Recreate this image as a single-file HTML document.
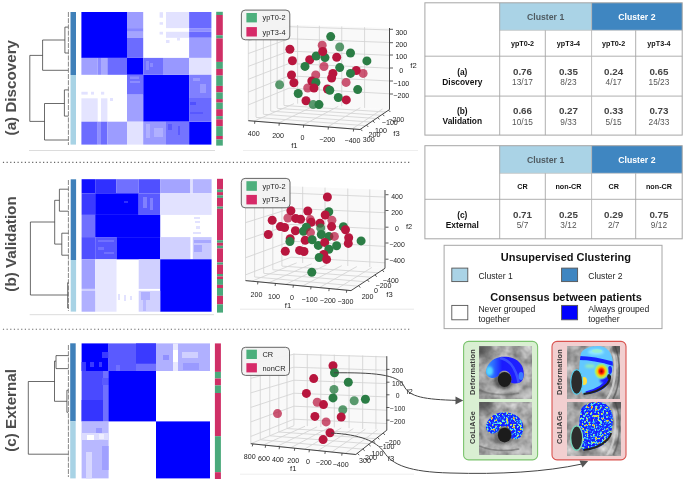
<!DOCTYPE html>
<html><head><meta charset="utf-8">
<style>
html,body{margin:0;padding:0;background:#fff;}
body{width:685px;height:483px;overflow:hidden;position:relative;font-family:"Liberation Sans", sans-serif;}
svg{position:absolute;left:0;top:0;will-change:transform;}
svg text{font-family:"Liberation Sans", sans-serif;}
</style></head><body>
<svg width="685" height="483" viewBox="0 0 685 483">
<text transform="translate(16.0,87.7) rotate(-90)" font-size="15.2" font-weight="bold" fill="#4d4d4d" text-anchor="middle">(a) Discovery</text>
<text transform="translate(16.0,244.0) rotate(-90)" font-size="15.2" font-weight="bold" fill="#4d4d4d" text-anchor="middle">(b) Validation</text>
<text transform="translate(16.0,410.4) rotate(-90)" font-size="15.2" font-weight="bold" fill="#4d4d4d" text-anchor="middle">(c) External</text>
<path d="M42.6 55.4 L29.8 55.4 L29.8 121.4 L44.5 121.4" fill="none" stroke="#3a3a3a" stroke-width="0.75"/>
<path d="M64.9 40.0 L42.6 40.0 L42.6 70.3 L68.2 70.3" fill="none" stroke="#3a3a3a" stroke-width="0.75"/>
<path d="M68.2 27.1 L64.9 27.1 L64.9 53.0 L68.2 53.0" fill="none" stroke="#3a3a3a" stroke-width="0.75"/>
<path d="M64.4 103.5 L44.5 103.5 L44.5 140.0 L68.2 140.0" fill="none" stroke="#3a3a3a" stroke-width="0.75"/>
<path d="M68.2 89.9 L64.4 89.9 L64.4 116.1 L68.2 116.1" fill="none" stroke="#3a3a3a" stroke-width="0.75"/>
<line x1="68.4" y1="12" x2="68.4" y2="145" stroke="#555" stroke-width="0.7" stroke-dasharray="5 1.2"/>
<path d="M54.7 222.0 L30.4 222.0 L30.4 295.0 L67.7 295.0" fill="none" stroke="#3a3a3a" stroke-width="0.75"/>
<path d="M59.4 200.3 L54.7 200.3 L54.7 244.1 L61.8 244.1" fill="none" stroke="#3a3a3a" stroke-width="0.75"/>
<path d="M68.4 189.2 L59.4 189.2 L59.4 211.2 L68.4 211.2" fill="none" stroke="#3a3a3a" stroke-width="0.75"/>
<path d="M68.4 233.2 L61.8 233.2 L61.8 255.2 L68.4 255.2" fill="none" stroke="#3a3a3a" stroke-width="0.75"/>
<path d="M68.4 282.7 L67.7 282.7 L67.7 308.0 L68.4 308.0" fill="none" stroke="#3a3a3a" stroke-width="0.75"/>
<line x1="68.4" y1="180" x2="68.4" y2="311" stroke="#555" stroke-width="0.7" stroke-dasharray="5 1.2"/>
<path d="M54.5 381.5 L28.3 381.5 L28.3 454.2 L68.2 454.2" fill="none" stroke="#3a3a3a" stroke-width="0.75"/>
<path d="M56.0 361.1 L54.5 361.1 L54.5 401.3 L66.9 401.3" fill="none" stroke="#3a3a3a" stroke-width="0.75"/>
<path d="M68.2 355.6 L56.0 355.6 L56.0 368.6 L68.2 368.6" fill="none" stroke="#3a3a3a" stroke-width="0.75"/>
<path d="M68.2 390.2 L66.9 390.2 L66.9 412.3 L68.2 412.3" fill="none" stroke="#3a3a3a" stroke-width="0.75"/>
<line x1="68.4" y1="345" x2="68.4" y2="477" stroke="#555" stroke-width="0.7" stroke-dasharray="5 1.2"/>
<rect x="70.50" y="12.00" width="5.50" height="63.00" fill="#3f80b9" />
<rect x="70.50" y="75.00" width="5.50" height="69.60" fill="#a8d3e5" />
<rect x="70.70" y="179.30" width="5.40" height="80.70" fill="#3f80b9" />
<rect x="70.70" y="260.00" width="5.40" height="51.60" fill="#a8d3e5" />
<rect x="70.20" y="343.30" width="5.50" height="78.00" fill="#3f80b9" />
<rect x="70.20" y="421.30" width="5.50" height="57.10" fill="#a8d3e5" />
<rect x="216.20" y="11.80" width="6.60" height="3.20" fill="#4aa97b" />
<rect x="216.20" y="15.00" width="6.60" height="20.30" fill="#cf2f66" />
<rect x="216.20" y="35.30" width="6.60" height="3.10" fill="#4aa97b" />
<rect x="216.20" y="38.40" width="6.60" height="23.50" fill="#cf2f66" />
<rect x="216.20" y="61.90" width="6.60" height="7.00" fill="#4aa97b" />
<rect x="216.20" y="68.90" width="6.60" height="6.70" fill="#cf2f66" />
<rect x="216.20" y="75.60" width="6.60" height="10.30" fill="#4aa97b" />
<rect x="216.20" y="85.90" width="6.60" height="6.50" fill="#cf2f66" />
<rect x="216.20" y="92.40" width="6.60" height="6.70" fill="#4aa97b" />
<rect x="216.20" y="99.10" width="6.60" height="3.50" fill="#cf2f66" />
<rect x="216.20" y="102.60" width="6.60" height="6.60" fill="#4aa97b" />
<rect x="216.20" y="109.20" width="6.60" height="6.90" fill="#cf2f66" />
<rect x="216.20" y="116.10" width="6.60" height="3.20" fill="#4aa97b" />
<rect x="216.20" y="119.30" width="6.60" height="6.90" fill="#cf2f66" />
<rect x="216.20" y="126.20" width="6.60" height="9.80" fill="#4aa97b" />
<rect x="216.20" y="136.00" width="6.60" height="3.40" fill="#cf2f66" />
<rect x="216.20" y="139.40" width="6.60" height="6.20" fill="#4aa97b" />
<rect x="217.00" y="178.80" width="6.00" height="10.70" fill="#cf2f66" />
<rect x="217.00" y="189.50" width="6.00" height="2.60" fill="#4aa97b" />
<rect x="217.00" y="192.10" width="6.00" height="3.20" fill="#cf2f66" />
<rect x="217.00" y="195.30" width="6.00" height="2.60" fill="#4aa97b" />
<rect x="217.00" y="197.90" width="6.00" height="8.70" fill="#cf2f66" />
<rect x="217.00" y="206.60" width="6.00" height="2.20" fill="#4aa97b" />
<rect x="217.00" y="208.80" width="6.00" height="31.40" fill="#cf2f66" />
<rect x="217.00" y="240.20" width="6.00" height="2.60" fill="#4aa97b" />
<rect x="217.00" y="242.80" width="6.00" height="3.00" fill="#cf2f66" />
<rect x="217.00" y="245.80" width="6.00" height="2.60" fill="#4aa97b" />
<rect x="217.00" y="248.40" width="6.00" height="14.00" fill="#cf2f66" />
<rect x="217.00" y="262.40" width="6.00" height="2.30" fill="#4aa97b" />
<rect x="217.00" y="264.70" width="6.00" height="9.30" fill="#cf2f66" />
<rect x="217.00" y="274.00" width="6.00" height="2.40" fill="#4aa97b" />
<rect x="217.00" y="276.40" width="6.00" height="2.60" fill="#cf2f66" />
<rect x="217.00" y="279.00" width="6.00" height="5.90" fill="#4aa97b" />
<rect x="217.00" y="284.90" width="6.00" height="3.10" fill="#cf2f66" />
<rect x="217.00" y="288.00" width="6.00" height="7.80" fill="#4aa97b" />
<rect x="217.00" y="295.80" width="6.00" height="8.50" fill="#cf2f66" />
<rect x="217.00" y="304.30" width="6.00" height="8.30" fill="#4aa97b" />
<rect x="214.90" y="343.40" width="6.00" height="28.50" fill="#cf2f66" />
<rect x="214.90" y="371.90" width="6.00" height="6.60" fill="#4aa97b" />
<rect x="214.90" y="378.50" width="6.00" height="6.90" fill="#cf2f66" />
<rect x="214.90" y="385.40" width="6.00" height="7.60" fill="#4aa97b" />
<rect x="214.90" y="393.00" width="6.00" height="43.20" fill="#cf2f66" />
<rect x="214.90" y="436.20" width="6.00" height="36.00" fill="#4aa97b" />
<rect x="214.90" y="472.20" width="6.00" height="6.80" fill="#cf2f66" />
<rect x="81.40" y="12.00" width="130.00" height="132.60" fill="#ffffff" />
<rect x="81.40" y="12.00" width="45.60" height="45.90" fill="#0000ff" />
<rect x="127.00" y="57.90" width="16.20" height="16.90" fill="#0000ff" />
<rect x="143.20" y="74.80" width="45.90" height="46.90" fill="#0000ff" />
<rect x="189.10" y="121.70" width="22.30" height="22.90" fill="#0000ff" />
<rect x="127.00" y="12.00" width="16.20" height="16.10" fill="#9c9cff" />
<rect x="127.00" y="28.10" width="16.20" height="3.70" fill="#8888ff" />
<rect x="127.00" y="31.80" width="16.20" height="6.00" fill="#a4a4ff" />
<rect x="127.00" y="37.80" width="16.20" height="20.10" fill="#6c6cff" />
<rect x="166.00" y="12.00" width="23.10" height="16.10" fill="#e2e2ff" />
<rect x="166.00" y="31.80" width="23.10" height="6.00" fill="#e2e2ff" />
<rect x="159.60" y="12.20" width="3.40" height="5.50" fill="#e2e2ff" />
<rect x="159.60" y="22.20" width="3.40" height="2.50" fill="#e2e2ff" />
<rect x="159.60" y="31.80" width="3.40" height="2.70" fill="#e2e2ff" />
<rect x="177.00" y="37.80" width="3.00" height="2.70" fill="#e2e2ff" />
<rect x="166.00" y="40.00" width="3.50" height="3.00" fill="#e2e2ff" />
<rect x="189.10" y="12.00" width="22.30" height="16.10" fill="#6a6aff" />
<rect x="189.10" y="28.10" width="22.30" height="3.70" fill="#9090ff" />
<rect x="189.10" y="31.80" width="22.30" height="6.00" fill="#6a6aff" />
<rect x="189.10" y="37.80" width="22.30" height="20.10" fill="#9c9cff" />
<rect x="81.40" y="57.90" width="16.30" height="16.90" fill="#a0a0ff" />
<rect x="97.70" y="57.90" width="3.30" height="16.90" fill="#8a8aff" />
<rect x="101.00" y="57.90" width="6.40" height="16.90" fill="#a8a8ff" />
<rect x="107.40" y="57.90" width="19.60" height="16.90" fill="#6c6cff" />
<rect x="143.20" y="57.90" width="19.80" height="16.90" fill="#7070ff" />
<rect x="163.00" y="57.90" width="26.10" height="16.90" fill="#9898ff" />
<rect x="189.10" y="57.90" width="22.30" height="16.90" fill="#e2e2ff" />
<rect x="146.00" y="61.00" width="3.00" height="9.00" fill="#8a8aff" />
<rect x="150.00" y="63.00" width="3.00" height="4.00" fill="#8a8aff" />
<rect x="81.40" y="91.80" width="6.30" height="2.80" fill="#e2e2ff" />
<rect x="91.00" y="91.80" width="3.00" height="2.80" fill="#e2e2ff" />
<rect x="101.00" y="91.80" width="3.20" height="2.80" fill="#e2e2ff" />
<rect x="81.40" y="98.30" width="16.30" height="23.40" fill="#e4e4ff" />
<rect x="101.00" y="98.30" width="6.40" height="23.40" fill="#e4e4ff" />
<rect x="110.00" y="98.00" width="3.00" height="3.00" fill="#e2e2ff" />
<rect x="127.00" y="74.80" width="16.20" height="19.90" fill="#7070ff" />
<rect x="127.00" y="94.70" width="16.20" height="27.00" fill="#a0a0ff" />
<rect x="130.00" y="76.50" width="9.00" height="2.50" fill="#8c8cff" />
<rect x="130.00" y="81.00" width="10.00" height="2.00" fill="#8c8cff" />
<rect x="189.10" y="74.80" width="22.30" height="23.20" fill="#8080ff" />
<rect x="189.10" y="98.00" width="22.30" height="23.70" fill="#6a6aff" />
<rect x="193.00" y="78.00" width="7.00" height="3.00" fill="#9a9aff" />
<rect x="200.00" y="84.00" width="6.00" height="9.00" fill="#9a9aff" />
<rect x="190.00" y="102.00" width="6.00" height="3.00" fill="#5050ff" />
<rect x="190.00" y="112.00" width="13.00" height="2.00" fill="#5858ff" />
<rect x="81.40" y="121.70" width="16.30" height="22.90" fill="#6c6cff" />
<rect x="97.70" y="121.70" width="3.30" height="22.90" fill="#9090ff" />
<rect x="101.00" y="121.70" width="6.40" height="22.90" fill="#6c6cff" />
<rect x="107.40" y="121.70" width="19.60" height="22.90" fill="#9c9cff" />
<rect x="127.00" y="121.70" width="16.20" height="22.90" fill="#e2e2ff" />
<rect x="143.20" y="121.70" width="22.80" height="22.90" fill="#9a9aff" />
<rect x="166.00" y="121.70" width="23.10" height="22.90" fill="#7474ff" />
<rect x="146.00" y="124.00" width="4.00" height="14.00" fill="#b0b0ff" />
<rect x="154.00" y="128.00" width="9.00" height="9.00" fill="#b0b0ff" />
<rect x="168.00" y="124.00" width="4.00" height="6.00" fill="#5a5aff" />
<rect x="178.00" y="126.00" width="2.00" height="9.00" fill="#5a5aff" />
<rect x="81.60" y="179.20" width="130.00" height="132.50" fill="#ffffff" />
<rect x="81.60" y="179.20" width="13.60" height="14.10" fill="#1010ff" />
<rect x="95.20" y="179.20" width="21.30" height="14.10" fill="#3030ff" />
<rect x="116.50" y="179.20" width="22.20" height="14.10" fill="#7070ff" />
<rect x="138.70" y="179.20" width="21.50" height="14.10" fill="#5050ff" />
<rect x="160.20" y="179.20" width="30.20" height="14.10" fill="#a4a4ff" />
<rect x="190.40" y="179.20" width="2.40" height="14.10" fill="#e0e0ff" />
<rect x="192.80" y="179.20" width="18.80" height="14.10" fill="#b4b4ff" />
<rect x="81.60" y="193.30" width="13.60" height="21.60" fill="#3a3aff" />
<rect x="95.20" y="193.30" width="43.50" height="21.60" fill="#0000ff" />
<rect x="138.70" y="193.30" width="21.50" height="21.60" fill="#5a5aff" />
<rect x="160.20" y="193.30" width="51.40" height="21.60" fill="#e2e2ff" />
<rect x="143.00" y="197.00" width="4.00" height="11.00" fill="#8080ff" />
<rect x="150.00" y="198.00" width="3.00" height="12.00" fill="#8080ff" />
<rect x="124.00" y="201.00" width="4.00" height="2.00" fill="#3030ff" />
<rect x="81.60" y="214.90" width="13.60" height="22.20" fill="#7070ff" />
<rect x="95.20" y="214.90" width="65.00" height="22.20" fill="#0000ff" />
<rect x="194.00" y="217.00" width="6.00" height="2.00" fill="#e2e2ff" />
<rect x="195.00" y="221.00" width="5.00" height="2.00" fill="#e2e2ff" />
<rect x="196.00" y="226.00" width="4.00" height="3.00" fill="#e2e2ff" />
<rect x="193.00" y="232.00" width="8.00" height="2.00" fill="#e2e2ff" />
<rect x="81.60" y="237.10" width="13.60" height="22.20" fill="#5050ff" />
<rect x="95.20" y="237.10" width="21.30" height="22.20" fill="#5656ff" />
<rect x="116.50" y="237.10" width="43.70" height="22.20" fill="#0000ff" />
<rect x="160.20" y="237.10" width="30.20" height="22.20" fill="#d0d0ff" />
<rect x="192.80" y="237.10" width="18.80" height="22.20" fill="#c8c8ff" />
<rect x="98.00" y="240.00" width="16.00" height="2.00" fill="#7070ff" />
<rect x="98.00" y="247.00" width="6.00" height="3.00" fill="#7070ff" />
<rect x="104.00" y="252.00" width="10.00" height="2.00" fill="#7070ff" />
<rect x="194.00" y="240.00" width="17.00" height="3.00" fill="#a8a8ff" />
<rect x="194.00" y="245.00" width="8.00" height="7.00" fill="#a8a8ff" />
<rect x="81.60" y="259.30" width="13.60" height="29.60" fill="#a0a0ff" />
<rect x="95.20" y="259.30" width="21.30" height="52.40" fill="#e6e6ff" />
<rect x="138.70" y="259.30" width="21.50" height="29.60" fill="#d0d0ff" />
<rect x="160.20" y="259.30" width="51.40" height="52.40" fill="#0000ff" />
<rect x="81.60" y="288.90" width="13.60" height="2.00" fill="#d0d0ff" />
<rect x="81.60" y="290.90" width="13.60" height="20.80" fill="#b0b0ff" />
<rect x="138.70" y="290.80" width="21.50" height="20.90" fill="#d0d0ff" />
<rect x="141.00" y="292.00" width="9.00" height="8.00" fill="#b0b0ff" />
<rect x="143.00" y="300.00" width="3.00" height="11.00" fill="#b8b8ff" />
<rect x="118.00" y="294.00" width="2.00" height="6.00" fill="#e2e2ff" />
<rect x="124.00" y="295.00" width="2.00" height="6.00" fill="#e2e2ff" />
<rect x="130.00" y="296.00" width="2.00" height="4.00" fill="#e2e2ff" />
<rect x="81.60" y="343.40" width="128.40" height="135.00" fill="#ffffff" />
<rect x="81.60" y="343.40" width="27.00" height="27.60" fill="#0000ff" />
<rect x="81.60" y="362.00" width="4.40" height="9.00" fill="#3a3aff" />
<rect x="90.00" y="362.00" width="4.00" height="5.00" fill="#3a3aff" />
<rect x="99.00" y="362.00" width="3.00" height="5.00" fill="#3a3aff" />
<rect x="102.00" y="352.00" width="6.60" height="6.00" fill="#3a3aff" />
<rect x="108.60" y="343.40" width="47.40" height="27.60" fill="#5a5aff" />
<rect x="136.00" y="343.40" width="20.00" height="20.60" fill="#3a3aff" />
<rect x="108.60" y="363.50" width="47.40" height="7.50" fill="#5a5aff" />
<rect x="116.00" y="365.00" width="4.00" height="6.00" fill="#7070ff" />
<rect x="136.00" y="364.00" width="20.00" height="7.00" fill="#7070ff" />
<rect x="156.00" y="343.40" width="54.00" height="27.60" fill="#b0b0ff" />
<rect x="173.00" y="343.40" width="5.00" height="27.60" fill="#e8e8ff" />
<rect x="173.00" y="350.00" width="5.00" height="12.00" fill="#ffffff" />
<rect x="182.00" y="352.00" width="16.00" height="6.00" fill="#d0d0ff" />
<rect x="183.00" y="363.00" width="16.00" height="7.00" fill="#9a9aff" />
<rect x="163.00" y="355.00" width="6.00" height="5.00" fill="#9090ff" />
<rect x="81.60" y="371.00" width="27.00" height="50.40" fill="#4a4aff" />
<rect x="81.60" y="400.00" width="21.40" height="21.40" fill="#3535ff" />
<rect x="103.00" y="371.00" width="5.60" height="50.40" fill="#7070ff" />
<rect x="102.00" y="378.00" width="6.60" height="7.00" fill="#5a5aff" />
<rect x="108.60" y="371.00" width="47.40" height="50.40" fill="#0000ff" />
<rect x="156.00" y="421.40" width="54.00" height="57.00" fill="#0000ff" />
<rect x="81.60" y="421.40" width="27.00" height="57.00" fill="#b8b8ff" />
<rect x="96.00" y="428.00" width="6.00" height="5.00" fill="#9a9aff" />
<rect x="81.60" y="433.00" width="27.00" height="7.00" fill="#dcdcff" />
<rect x="87.00" y="435.00" width="7.00" height="5.00" fill="#ffffff" />
<rect x="99.00" y="434.00" width="5.00" height="5.00" fill="#eeeeff" />
<rect x="86.00" y="452.00" width="6.00" height="26.40" fill="#d8d8ff" />
<rect x="102.00" y="446.00" width="6.60" height="24.00" fill="#a0a0ff" />
<line x1="29.00" y1="150.50" x2="215.00" y2="150.50" stroke="#dcdcdc" stroke-width="1" />
<line x1="243.00" y1="150.50" x2="418.00" y2="150.50" stroke="#eeeeee" stroke-width="1" />
<line x1="29.70" y1="314.70" x2="214.00" y2="314.70" stroke="#dcdcdc" stroke-width="1" />
<line x1="240.00" y1="309.20" x2="414.00" y2="309.20" stroke="#e8e8e8" stroke-width="1" />
<line x1="240.00" y1="474.20" x2="414.00" y2="474.20" stroke="#eeeeee" stroke-width="1" />
<line x1="2.90" y1="162.40" x2="410.00" y2="162.40" stroke="#666" stroke-width="1.1" stroke-dasharray="1.2 2.45"/>
<line x1="2.90" y1="329.20" x2="410.00" y2="329.20" stroke="#666" stroke-width="1.1" stroke-dasharray="1.2 2.45"/>
<polygon points="248.3,120.7 289.0,103.3 289.0,24.8 248.3,39.0" fill="#f9f9f9" stroke="none"/>
<line x1="248.30" y1="120.70" x2="248.30" y2="39.00" stroke="#d3d3d3" stroke-width="0.85" />
<line x1="256.03" y1="117.39" x2="256.03" y2="36.30" stroke="#d3d3d3" stroke-width="0.85" />
<line x1="263.36" y1="114.26" x2="263.36" y2="33.75" stroke="#d3d3d3" stroke-width="0.85" />
<line x1="270.69" y1="111.13" x2="270.69" y2="31.19" stroke="#d3d3d3" stroke-width="0.85" />
<line x1="277.20" y1="108.35" x2="277.20" y2="28.92" stroke="#d3d3d3" stroke-width="0.85" />
<line x1="283.91" y1="105.47" x2="283.91" y2="26.58" stroke="#d3d3d3" stroke-width="0.85" />
<line x1="248.30" y1="104.93" x2="289.00" y2="88.15" stroke="#d3d3d3" stroke-width="0.85" />
<line x1="248.30" y1="92.11" x2="289.00" y2="75.83" stroke="#d3d3d3" stroke-width="0.85" />
<line x1="248.30" y1="79.28" x2="289.00" y2="63.50" stroke="#d3d3d3" stroke-width="0.85" />
<line x1="248.30" y1="66.37" x2="289.00" y2="51.10" stroke="#d3d3d3" stroke-width="0.85" />
<line x1="248.30" y1="53.54" x2="289.00" y2="38.77" stroke="#d3d3d3" stroke-width="0.85" />
<line x1="248.30" y1="40.96" x2="289.00" y2="26.68" stroke="#d3d3d3" stroke-width="0.85" />
<polygon points="289.0,103.3 389.5,109.5 389.5,28.0 289.0,24.8" fill="#f9f9f9" stroke="none"/>
<line x1="297.60" y1="103.83" x2="297.60" y2="25.07" stroke="#d3d3d3" stroke-width="0.85" />
<line x1="319.40" y1="105.18" x2="319.40" y2="25.77" stroke="#d3d3d3" stroke-width="0.85" />
<line x1="341.76" y1="106.55" x2="341.76" y2="26.48" stroke="#d3d3d3" stroke-width="0.85" />
<line x1="364.58" y1="107.96" x2="364.58" y2="27.21" stroke="#d3d3d3" stroke-width="0.85" />
<line x1="289.00" y1="88.15" x2="389.50" y2="93.77" stroke="#d3d3d3" stroke-width="0.85" />
<line x1="289.00" y1="75.83" x2="389.50" y2="80.97" stroke="#d3d3d3" stroke-width="0.85" />
<line x1="289.00" y1="63.50" x2="389.50" y2="68.18" stroke="#d3d3d3" stroke-width="0.85" />
<line x1="289.00" y1="51.10" x2="389.50" y2="55.30" stroke="#d3d3d3" stroke-width="0.85" />
<line x1="289.00" y1="38.77" x2="389.50" y2="42.51" stroke="#d3d3d3" stroke-width="0.85" />
<line x1="289.00" y1="26.68" x2="389.50" y2="29.96" stroke="#d3d3d3" stroke-width="0.85" />
<polygon points="248.3,120.7 360.0,129.5 389.5,109.5 289.0,103.3" fill="#f9f9f9" stroke="none"/>
<line x1="253.89" y1="121.14" x2="294.02" y2="103.61" stroke="#d3d3d3" stroke-width="0.85" />
<line x1="278.46" y1="123.08" x2="316.13" y2="104.97" stroke="#d3d3d3" stroke-width="0.85" />
<line x1="303.03" y1="125.01" x2="338.25" y2="106.34" stroke="#d3d3d3" stroke-width="0.85" />
<line x1="327.61" y1="126.95" x2="360.36" y2="107.70" stroke="#d3d3d3" stroke-width="0.85" />
<line x1="352.18" y1="128.88" x2="382.47" y2="109.07" stroke="#d3d3d3" stroke-width="0.85" />
<line x1="248.30" y1="120.70" x2="360.00" y2="129.50" stroke="#d3d3d3" stroke-width="0.85" />
<line x1="256.03" y1="117.39" x2="365.61" y2="125.70" stroke="#d3d3d3" stroke-width="0.85" />
<line x1="263.36" y1="114.26" x2="370.92" y2="122.10" stroke="#d3d3d3" stroke-width="0.85" />
<line x1="270.69" y1="111.13" x2="376.23" y2="118.50" stroke="#d3d3d3" stroke-width="0.85" />
<line x1="277.20" y1="108.35" x2="380.94" y2="115.30" stroke="#d3d3d3" stroke-width="0.85" />
<line x1="283.91" y1="105.47" x2="385.81" y2="112.00" stroke="#d3d3d3" stroke-width="0.85" />
<line x1="248.30" y1="120.70" x2="360.00" y2="129.50" stroke="#333" stroke-width="0.9" />
<line x1="360.00" y1="129.50" x2="389.50" y2="109.50" stroke="#333" stroke-width="0.9" />
<line x1="389.50" y1="109.50" x2="389.50" y2="28.00" stroke="#333" stroke-width="0.9" />
<line x1="390.00" y1="29.30" x2="393.00" y2="29.30" stroke="#333" stroke-width="0.8" />
<line x1="390.00" y1="42.70" x2="393.00" y2="42.70" stroke="#333" stroke-width="0.8" />
<line x1="390.00" y1="55.00" x2="393.00" y2="55.00" stroke="#333" stroke-width="0.8" />
<line x1="390.00" y1="68.00" x2="393.00" y2="68.00" stroke="#333" stroke-width="0.8" />
<line x1="390.00" y1="81.00" x2="393.00" y2="81.00" stroke="#333" stroke-width="0.8" />
<line x1="390.00" y1="94.00" x2="393.00" y2="94.00" stroke="#333" stroke-width="0.8" />
<text x="401.30" y="34.90" font-size="7.1" font-weight="normal" fill="#222" text-anchor="middle" >300</text>
<text x="401.30" y="47.00" font-size="7.1" font-weight="normal" fill="#222" text-anchor="middle" >200</text>
<text x="401.30" y="59.40" font-size="7.1" font-weight="normal" fill="#222" text-anchor="middle" >100</text>
<text x="401.30" y="72.50" font-size="7.1" font-weight="normal" fill="#222" text-anchor="middle" >0</text>
<text x="401.30" y="85.50" font-size="7.1" font-weight="normal" fill="#222" text-anchor="middle" >−100</text>
<text x="401.30" y="97.80" font-size="7.1" font-weight="normal" fill="#222" text-anchor="middle" >−200</text>
<text x="413.50" y="67.70" font-size="7.6" font-weight="normal" fill="#222" text-anchor="middle" >f2</text>
<text x="253.70" y="136.00" font-size="7.1" font-weight="normal" fill="#222" text-anchor="middle" >400</text>
<text x="278.10" y="138.10" font-size="7.1" font-weight="normal" fill="#222" text-anchor="middle" >200</text>
<text x="302.50" y="140.00" font-size="7.1" font-weight="normal" fill="#222" text-anchor="middle" >0</text>
<text x="327.20" y="142.00" font-size="7.1" font-weight="normal" fill="#222" text-anchor="middle" >−200</text>
<text x="352.50" y="143.40" font-size="7.1" font-weight="normal" fill="#222" text-anchor="middle" >−400</text>
<text x="294.40" y="147.80" font-size="7.6" font-weight="normal" fill="#222" text-anchor="middle" >f1</text>
<line x1="254.86" y1="121.22" x2="254.61" y2="123.80" stroke="#333" stroke-width="0.8" />
<line x1="279.28" y1="123.14" x2="279.02" y2="125.73" stroke="#333" stroke-width="0.8" />
<line x1="303.68" y1="125.06" x2="303.42" y2="127.65" stroke="#333" stroke-width="0.8" />
<line x1="328.38" y1="127.01" x2="328.13" y2="129.60" stroke="#333" stroke-width="0.8" />
<line x1="353.63" y1="129.00" x2="353.38" y2="131.59" stroke="#333" stroke-width="0.8" />
<text x="368.70" y="141.50" font-size="7.1" font-weight="normal" fill="#222" text-anchor="middle" >300</text>
<text x="374.50" y="136.80" font-size="7.1" font-weight="normal" fill="#222" text-anchor="middle" >200</text>
<text x="381.00" y="132.80" font-size="7.1" font-weight="normal" fill="#222" text-anchor="middle" >100</text>
<text x="389.80" y="125.00" font-size="7.1" font-weight="normal" fill="#222" text-anchor="middle" >−100</text>
<text x="396.30" y="121.50" font-size="7.1" font-weight="normal" fill="#222" text-anchor="middle" >−200</text>
<text x="396.50" y="135.50" font-size="7.6" font-weight="normal" fill="#222" text-anchor="middle" >f3</text>
<line x1="360.59" y1="129.10" x2="362.29" y2="131.07" stroke="#333" stroke-width="0.8" />
<line x1="366.54" y1="125.06" x2="368.29" y2="126.99" stroke="#333" stroke-width="0.8" />
<line x1="372.85" y1="120.79" x2="374.60" y2="122.71" stroke="#333" stroke-width="0.8" />
<line x1="377.70" y1="117.50" x2="379.46" y2="119.41" stroke="#333" stroke-width="0.8" />
<line x1="382.51" y1="114.24" x2="384.29" y2="116.14" stroke="#333" stroke-width="0.8" />
<line x1="388.58" y1="110.12" x2="390.35" y2="112.03" stroke="#333" stroke-width="0.8" />
<circle cx="330.7" cy="36.6" r="4.5" fill="#2b7d45" fill-opacity="1"/>
<circle cx="339.7" cy="47.0" r="4.5" fill="#2b7d45" fill-opacity="0.78"/>
<circle cx="350.5" cy="53.0" r="4.5" fill="#2b7d45" fill-opacity="1"/>
<circle cx="366.9" cy="60.9" r="4.5" fill="#2b7d45" fill-opacity="1"/>
<circle cx="322.2" cy="45.3" r="4.5" fill="#b8163e" fill-opacity="0.72"/>
<circle cx="289.9" cy="49.2" r="4.5" fill="#b8163e" fill-opacity="1"/>
<circle cx="292.4" cy="60.7" r="4.5" fill="#b8163e" fill-opacity="1"/>
<circle cx="309.7" cy="59.7" r="4.5" fill="#b8163e" fill-opacity="1"/>
<circle cx="316.2" cy="56.0" r="4.5" fill="#2b7d45" fill-opacity="1"/>
<circle cx="325.0" cy="57.6" r="4.5" fill="#2b7d45" fill-opacity="1"/>
<circle cx="336.7" cy="57.3" r="4.5" fill="#b8163e" fill-opacity="1"/>
<circle cx="322.7" cy="51.5" r="4.5" fill="#b8163e" fill-opacity="1"/>
<circle cx="305.0" cy="66.4" r="4.5" fill="#2b7d45" fill-opacity="1"/>
<circle cx="324.0" cy="66.5" r="4.5" fill="#b8163e" fill-opacity="0.72"/>
<circle cx="339.7" cy="67.6" r="4.5" fill="#2b7d45" fill-opacity="1"/>
<circle cx="291.5" cy="75.0" r="4.5" fill="#b8163e" fill-opacity="1"/>
<circle cx="315.7" cy="75.0" r="4.5" fill="#b8163e" fill-opacity="0.72"/>
<circle cx="332.9" cy="73.4" r="4.5" fill="#b8163e" fill-opacity="1"/>
<circle cx="356.3" cy="70.5" r="4.5" fill="#b8163e" fill-opacity="1"/>
<circle cx="350.5" cy="73.4" r="4.5" fill="#2b7d45" fill-opacity="1"/>
<circle cx="363.1" cy="73.4" r="4.5" fill="#b8163e" fill-opacity="0.72"/>
<circle cx="331.6" cy="78.0" r="4.5" fill="#b8163e" fill-opacity="1"/>
<circle cx="293.9" cy="82.7" r="4.5" fill="#b8163e" fill-opacity="1"/>
<circle cx="279.6" cy="84.7" r="4.5" fill="#2b7d45" fill-opacity="0.78"/>
<circle cx="311.8" cy="81.0" r="4.5" fill="#b8163e" fill-opacity="1"/>
<circle cx="315.9" cy="82.4" r="4.5" fill="#2b7d45" fill-opacity="1"/>
<circle cx="346.1" cy="82.4" r="4.5" fill="#b8163e" fill-opacity="0.72"/>
<circle cx="307.7" cy="88.0" r="4.5" fill="#b8163e" fill-opacity="0.72"/>
<circle cx="314.0" cy="88.0" r="4.5" fill="#b8163e" fill-opacity="1"/>
<circle cx="327.5" cy="89.0" r="4.5" fill="#b8163e" fill-opacity="1"/>
<circle cx="329.8" cy="90.2" r="4.5" fill="#2b7d45" fill-opacity="1"/>
<circle cx="357.7" cy="89.6" r="4.5" fill="#2b7d45" fill-opacity="1"/>
<circle cx="298.2" cy="93.5" r="4.5" fill="#2b7d45" fill-opacity="1"/>
<circle cx="338.3" cy="97.5" r="4.5" fill="#2b7d45" fill-opacity="1"/>
<circle cx="346.3" cy="99.9" r="4.5" fill="#b8163e" fill-opacity="1"/>
<circle cx="306.0" cy="100.7" r="4.5" fill="#b8163e" fill-opacity="1"/>
<circle cx="313.2" cy="104.6" r="4.5" fill="#2b7d45" fill-opacity="0.78"/>
<circle cx="319.0" cy="104.6" r="4.5" fill="#2b7d45" fill-opacity="1"/>
<rect x="241.4" y="10.1" width="48.400000000000006" height="29.699999999999996" rx="3.8" fill="#f2f2f2" fill-opacity="0.95" stroke="#555" stroke-width="0.9"/>
<rect x="246.40" y="13.00" width="10.50" height="9.40" fill="#4caf7c" />
<text x="262.50" y="20.40" font-size="7.4" font-weight="normal" fill="#222" text-anchor="start" >ypT0-2</text>
<rect x="246.40" y="27.10" width="10.50" height="9.40" fill="#d62a68" />
<text x="262.50" y="34.90" font-size="7.4" font-weight="normal" fill="#222" text-anchor="start" >ypT3-4</text>
<polygon points="245.5,280.6 291.0,262.5 291.0,186.3 245.5,199.0" fill="#f9f9f9" stroke="none"/>
<line x1="245.50" y1="280.60" x2="245.50" y2="199.00" stroke="#d3d3d3" stroke-width="0.85" />
<line x1="254.60" y1="276.98" x2="254.60" y2="196.46" stroke="#d3d3d3" stroke-width="0.85" />
<line x1="263.70" y1="273.36" x2="263.70" y2="193.92" stroke="#d3d3d3" stroke-width="0.85" />
<line x1="272.80" y1="269.74" x2="272.80" y2="191.38" stroke="#d3d3d3" stroke-width="0.85" />
<line x1="281.90" y1="266.12" x2="281.90" y2="188.84" stroke="#d3d3d3" stroke-width="0.85" />
<line x1="245.50" y1="274.89" x2="291.00" y2="257.17" stroke="#d3d3d3" stroke-width="0.85" />
<line x1="245.50" y1="257.75" x2="291.00" y2="241.16" stroke="#d3d3d3" stroke-width="0.85" />
<line x1="245.50" y1="239.80" x2="291.00" y2="224.40" stroke="#d3d3d3" stroke-width="0.85" />
<line x1="245.50" y1="222.66" x2="291.00" y2="208.40" stroke="#d3d3d3" stroke-width="0.85" />
<line x1="245.50" y1="206.34" x2="291.00" y2="193.16" stroke="#d3d3d3" stroke-width="0.85" />
<polygon points="291.0,262.5 385.0,268.3 385.0,190.0 291.0,186.3" fill="#f9f9f9" stroke="none"/>
<line x1="302.66" y1="263.22" x2="302.66" y2="186.76" stroke="#d3d3d3" stroke-width="0.85" />
<line x1="325.03" y1="264.60" x2="325.03" y2="187.64" stroke="#d3d3d3" stroke-width="0.85" />
<line x1="347.78" y1="266.00" x2="347.78" y2="188.53" stroke="#d3d3d3" stroke-width="0.85" />
<line x1="369.77" y1="267.36" x2="369.77" y2="189.40" stroke="#d3d3d3" stroke-width="0.85" />
<line x1="291.00" y1="257.17" x2="385.00" y2="262.82" stroke="#d3d3d3" stroke-width="0.85" />
<line x1="291.00" y1="241.16" x2="385.00" y2="246.38" stroke="#d3d3d3" stroke-width="0.85" />
<line x1="291.00" y1="224.40" x2="385.00" y2="229.15" stroke="#d3d3d3" stroke-width="0.85" />
<line x1="291.00" y1="208.40" x2="385.00" y2="212.71" stroke="#d3d3d3" stroke-width="0.85" />
<line x1="291.00" y1="193.16" x2="385.00" y2="197.05" stroke="#d3d3d3" stroke-width="0.85" />
<polygon points="245.5,280.6 351.0,290.6 385.0,268.3 291.0,262.5" fill="#f9f9f9" stroke="none"/>
<line x1="251.83" y1="281.20" x2="296.64" y2="262.85" stroke="#d3d3d3" stroke-width="0.85" />
<line x1="268.71" y1="282.80" x2="311.68" y2="263.78" stroke="#d3d3d3" stroke-width="0.85" />
<line x1="285.59" y1="284.40" x2="326.72" y2="264.70" stroke="#d3d3d3" stroke-width="0.85" />
<line x1="302.47" y1="286.00" x2="341.76" y2="265.63" stroke="#d3d3d3" stroke-width="0.85" />
<line x1="319.35" y1="287.60" x2="356.80" y2="266.56" stroke="#d3d3d3" stroke-width="0.85" />
<line x1="336.23" y1="289.20" x2="371.84" y2="267.49" stroke="#d3d3d3" stroke-width="0.85" />
<line x1="245.50" y1="280.60" x2="351.00" y2="290.60" stroke="#d3d3d3" stroke-width="0.85" />
<line x1="254.60" y1="276.98" x2="357.80" y2="286.14" stroke="#d3d3d3" stroke-width="0.85" />
<line x1="263.70" y1="273.36" x2="364.60" y2="281.68" stroke="#d3d3d3" stroke-width="0.85" />
<line x1="272.80" y1="269.74" x2="371.40" y2="277.22" stroke="#d3d3d3" stroke-width="0.85" />
<line x1="281.90" y1="266.12" x2="378.20" y2="272.76" stroke="#d3d3d3" stroke-width="0.85" />
<line x1="245.50" y1="280.60" x2="351.00" y2="290.60" stroke="#333" stroke-width="0.9" />
<line x1="351.00" y1="290.60" x2="385.00" y2="268.30" stroke="#333" stroke-width="0.9" />
<line x1="385.00" y1="268.30" x2="385.00" y2="190.00" stroke="#333" stroke-width="0.9" />
<line x1="385.50" y1="194.70" x2="388.50" y2="194.70" stroke="#333" stroke-width="0.8" />
<line x1="385.50" y1="210.50" x2="388.50" y2="210.50" stroke="#333" stroke-width="0.8" />
<line x1="385.50" y1="227.20" x2="388.50" y2="227.20" stroke="#333" stroke-width="0.8" />
<line x1="385.50" y1="243.00" x2="388.50" y2="243.00" stroke="#333" stroke-width="0.8" />
<line x1="385.50" y1="259.20" x2="388.50" y2="259.20" stroke="#333" stroke-width="0.8" />
<text x="397.00" y="198.70" font-size="6.9" font-weight="normal" fill="#222" text-anchor="middle" >400</text>
<text x="397.00" y="214.90" font-size="6.9" font-weight="normal" fill="#222" text-anchor="middle" >200</text>
<text x="397.00" y="231.20" font-size="6.9" font-weight="normal" fill="#222" text-anchor="middle" >0</text>
<text x="397.00" y="247.40" font-size="6.9" font-weight="normal" fill="#222" text-anchor="middle" >−200</text>
<text x="397.00" y="263.20" font-size="6.9" font-weight="normal" fill="#222" text-anchor="middle" >−400</text>
<text x="409.00" y="229.00" font-size="7.4" font-weight="normal" fill="#222" text-anchor="middle" >f2</text>
<text x="256.50" y="296.80" font-size="7.1" font-weight="normal" fill="#222" text-anchor="middle" >200</text>
<text x="274.00" y="298.60" font-size="7.1" font-weight="normal" fill="#222" text-anchor="middle" >100</text>
<text x="292.00" y="299.60" font-size="7.1" font-weight="normal" fill="#222" text-anchor="middle" >0</text>
<text x="309.60" y="302.00" font-size="7.1" font-weight="normal" fill="#222" text-anchor="middle" >−100</text>
<text x="327.80" y="303.00" font-size="7.1" font-weight="normal" fill="#222" text-anchor="middle" >−200</text>
<text x="345.40" y="304.30" font-size="7.1" font-weight="normal" fill="#222" text-anchor="middle" >−300</text>
<text x="288.00" y="307.50" font-size="7.6" font-weight="normal" fill="#222" text-anchor="middle" >f1</text>
<line x1="257.92" y1="281.78" x2="257.62" y2="284.36" stroke="#333" stroke-width="0.8" />
<line x1="275.44" y1="283.44" x2="275.13" y2="286.02" stroke="#333" stroke-width="0.8" />
<line x1="293.37" y1="285.14" x2="293.06" y2="287.72" stroke="#333" stroke-width="0.8" />
<line x1="311.04" y1="286.81" x2="310.73" y2="289.39" stroke="#333" stroke-width="0.8" />
<line x1="329.17" y1="288.53" x2="328.86" y2="291.11" stroke="#333" stroke-width="0.8" />
<line x1="346.74" y1="290.20" x2="346.43" y2="292.78" stroke="#333" stroke-width="0.8" />
<text x="390.80" y="283.00" font-size="7.1" font-weight="normal" fill="#222" text-anchor="middle" >−400</text>
<text x="383.50" y="287.80" font-size="7.1" font-weight="normal" fill="#222" text-anchor="middle" >−200</text>
<text x="376.00" y="293.00" font-size="7.1" font-weight="normal" fill="#222" text-anchor="middle" >0</text>
<text x="367.60" y="299.30" font-size="7.1" font-weight="normal" fill="#222" text-anchor="middle" >200</text>
<text x="389.50" y="296.50" font-size="7.6" font-weight="normal" fill="#222" text-anchor="middle" >f3</text>
<line x1="382.31" y1="270.06" x2="384.00" y2="272.04" stroke="#333" stroke-width="0.8" />
<line x1="375.01" y1="274.85" x2="376.70" y2="276.83" stroke="#333" stroke-width="0.8" />
<line x1="367.38" y1="279.86" x2="369.06" y2="281.84" stroke="#333" stroke-width="0.8" />
<line x1="358.62" y1="285.60" x2="360.29" y2="287.60" stroke="#333" stroke-width="0.8" />
<circle cx="327.4" cy="197.0" r="4.5" fill="#b8163e" fill-opacity="1"/>
<circle cx="290.9" cy="210.7" r="4.5" fill="#b8163e" fill-opacity="1"/>
<circle cx="307.8" cy="211.0" r="4.5" fill="#b8163e" fill-opacity="1"/>
<circle cx="328.8" cy="211.7" r="4.5" fill="#2b7d45" fill-opacity="1"/>
<circle cx="325.2" cy="215.0" r="4.5" fill="#b8163e" fill-opacity="1"/>
<circle cx="287.9" cy="218.0" r="4.5" fill="#b8163e" fill-opacity="0.72"/>
<circle cx="295.7" cy="218.4" r="4.5" fill="#b8163e" fill-opacity="1"/>
<circle cx="300.6" cy="219.3" r="4.5" fill="#b8163e" fill-opacity="1"/>
<circle cx="310.3" cy="219.6" r="4.5" fill="#b8163e" fill-opacity="0.72"/>
<circle cx="272.2" cy="220.2" r="4.5" fill="#b8163e" fill-opacity="1"/>
<circle cx="331.9" cy="220.2" r="4.5" fill="#b8163e" fill-opacity="0.72"/>
<circle cx="311.2" cy="222.2" r="4.5" fill="#b8163e" fill-opacity="1"/>
<circle cx="320.0" cy="223.2" r="4.5" fill="#b8163e" fill-opacity="1"/>
<circle cx="280.4" cy="226.6" r="4.5" fill="#b8163e" fill-opacity="1"/>
<circle cx="284.6" cy="227.5" r="4.5" fill="#b8163e" fill-opacity="1"/>
<circle cx="306.3" cy="227.2" r="4.5" fill="#2b7d45" fill-opacity="1"/>
<circle cx="320.7" cy="227.9" r="4.5" fill="#2b7d45" fill-opacity="0.78"/>
<circle cx="331.6" cy="226.6" r="4.5" fill="#b8163e" fill-opacity="1"/>
<circle cx="343.4" cy="226.7" r="4.5" fill="#2b7d45" fill-opacity="1"/>
<circle cx="345.5" cy="229.7" r="4.5" fill="#b8163e" fill-opacity="1"/>
<circle cx="295.4" cy="230.8" r="4.5" fill="#b8163e" fill-opacity="1"/>
<circle cx="303.5" cy="231.2" r="4.5" fill="#2b7d45" fill-opacity="1"/>
<circle cx="310.5" cy="232.6" r="4.5" fill="#b8163e" fill-opacity="0.72"/>
<circle cx="268.3" cy="234.5" r="4.5" fill="#b8163e" fill-opacity="1"/>
<circle cx="321.3" cy="234.5" r="4.5" fill="#2b7d45" fill-opacity="1"/>
<circle cx="328.9" cy="236.4" r="4.5" fill="#2b7d45" fill-opacity="1"/>
<circle cx="334.4" cy="236.4" r="4.5" fill="#b8163e" fill-opacity="0.72"/>
<circle cx="348.7" cy="237.8" r="4.5" fill="#b8163e" fill-opacity="1"/>
<circle cx="361.1" cy="240.9" r="4.5" fill="#2b7d45" fill-opacity="1"/>
<circle cx="348.3" cy="243.4" r="4.5" fill="#b8163e" fill-opacity="1"/>
<circle cx="290.2" cy="238.8" r="4.5" fill="#b8163e" fill-opacity="1"/>
<circle cx="289.9" cy="241.6" r="4.5" fill="#2b7d45" fill-opacity="1"/>
<circle cx="305.2" cy="240.3" r="4.5" fill="#b8163e" fill-opacity="1"/>
<circle cx="312.2" cy="239.8" r="4.5" fill="#2b7d45" fill-opacity="1"/>
<circle cx="318.3" cy="245.4" r="4.5" fill="#2b7d45" fill-opacity="1"/>
<circle cx="324.7" cy="242.4" r="4.5" fill="#b8163e" fill-opacity="1"/>
<circle cx="336.6" cy="245.8" r="4.5" fill="#2b7d45" fill-opacity="1"/>
<circle cx="328.9" cy="249.3" r="4.5" fill="#2b7d45" fill-opacity="1"/>
<circle cx="285.3" cy="251.3" r="4.5" fill="#b8163e" fill-opacity="1"/>
<circle cx="299.6" cy="250.4" r="4.5" fill="#b8163e" fill-opacity="1"/>
<circle cx="304.0" cy="251.5" r="4.5" fill="#b8163e" fill-opacity="1"/>
<circle cx="323.7" cy="254.5" r="4.5" fill="#b8163e" fill-opacity="1"/>
<circle cx="319.2" cy="257.5" r="4.5" fill="#2b7d45" fill-opacity="1"/>
<circle cx="326.6" cy="259.4" r="4.5" fill="#b8163e" fill-opacity="1"/>
<circle cx="311.8" cy="272.2" r="4.5" fill="#2b7d45" fill-opacity="1"/>
<rect x="241.3" y="178.4" width="48.69999999999999" height="29.400000000000006" rx="3.8" fill="#f2f2f2" fill-opacity="0.95" stroke="#555" stroke-width="0.9"/>
<rect x="246.40" y="181.20" width="10.50" height="9.60" fill="#4caf7c" />
<text x="262.50" y="188.60" font-size="7.4" font-weight="normal" fill="#222" text-anchor="start" >ypT0-2</text>
<rect x="246.40" y="194.90" width="10.50" height="9.50" fill="#d62a68" />
<text x="262.50" y="202.30" font-size="7.4" font-weight="normal" fill="#222" text-anchor="start" >ypT3-4</text>
<polygon points="250.8,443.7 293.9,425.7 293.9,353.5 250.8,363.0" fill="#f9f9f9" stroke="none"/>
<line x1="250.80" y1="443.70" x2="250.80" y2="363.00" stroke="#d3d3d3" stroke-width="0.85" />
<line x1="260.28" y1="439.74" x2="260.28" y2="360.91" stroke="#d3d3d3" stroke-width="0.85" />
<line x1="269.76" y1="435.78" x2="269.76" y2="358.82" stroke="#d3d3d3" stroke-width="0.85" />
<line x1="278.81" y1="432.00" x2="278.81" y2="356.82" stroke="#d3d3d3" stroke-width="0.85" />
<line x1="287.00" y1="428.58" x2="287.00" y2="355.02" stroke="#d3d3d3" stroke-width="0.85" />
<line x1="250.80" y1="436.44" x2="293.90" y2="419.20" stroke="#d3d3d3" stroke-width="0.85" />
<line x1="250.80" y1="421.91" x2="293.90" y2="406.21" stroke="#d3d3d3" stroke-width="0.85" />
<line x1="250.80" y1="407.38" x2="293.90" y2="393.21" stroke="#d3d3d3" stroke-width="0.85" />
<line x1="250.80" y1="392.86" x2="293.90" y2="380.21" stroke="#d3d3d3" stroke-width="0.85" />
<line x1="250.80" y1="378.33" x2="293.90" y2="367.22" stroke="#d3d3d3" stroke-width="0.85" />
<line x1="250.80" y1="363.81" x2="293.90" y2="354.22" stroke="#d3d3d3" stroke-width="0.85" />
<polygon points="293.9,425.7 386.8,430.2 386.8,356.2 293.9,353.5" fill="#f9f9f9" stroke="none"/>
<line x1="293.90" y1="425.70" x2="293.90" y2="353.50" stroke="#d3d3d3" stroke-width="0.85" />
<line x1="307.28" y1="426.35" x2="307.28" y2="353.89" stroke="#d3d3d3" stroke-width="0.85" />
<line x1="320.84" y1="427.00" x2="320.84" y2="354.28" stroke="#d3d3d3" stroke-width="0.85" />
<line x1="334.31" y1="427.66" x2="334.31" y2="354.67" stroke="#d3d3d3" stroke-width="0.85" />
<line x1="349.08" y1="428.37" x2="349.08" y2="355.10" stroke="#d3d3d3" stroke-width="0.85" />
<line x1="362.65" y1="429.03" x2="362.65" y2="355.50" stroke="#d3d3d3" stroke-width="0.85" />
<line x1="375.93" y1="429.67" x2="375.93" y2="355.88" stroke="#d3d3d3" stroke-width="0.85" />
<line x1="293.90" y1="419.20" x2="386.80" y2="423.54" stroke="#d3d3d3" stroke-width="0.85" />
<line x1="293.90" y1="406.21" x2="386.80" y2="410.22" stroke="#d3d3d3" stroke-width="0.85" />
<line x1="293.90" y1="393.21" x2="386.80" y2="396.90" stroke="#d3d3d3" stroke-width="0.85" />
<line x1="293.90" y1="380.21" x2="386.80" y2="383.58" stroke="#d3d3d3" stroke-width="0.85" />
<line x1="293.90" y1="367.22" x2="386.80" y2="370.26" stroke="#d3d3d3" stroke-width="0.85" />
<line x1="293.90" y1="354.22" x2="386.80" y2="356.94" stroke="#d3d3d3" stroke-width="0.85" />
<polygon points="250.8,443.7 355.8,454.5 386.8,430.2 293.9,425.7" fill="#f9f9f9" stroke="none"/>
<line x1="250.80" y1="443.70" x2="293.90" y2="425.70" stroke="#d3d3d3" stroke-width="0.85" />
<line x1="263.40" y1="445.00" x2="305.05" y2="426.24" stroke="#d3d3d3" stroke-width="0.85" />
<line x1="277.05" y1="446.40" x2="317.12" y2="426.82" stroke="#d3d3d3" stroke-width="0.85" />
<line x1="290.70" y1="447.80" x2="329.20" y2="427.41" stroke="#d3d3d3" stroke-width="0.85" />
<line x1="304.35" y1="449.21" x2="341.28" y2="428.00" stroke="#d3d3d3" stroke-width="0.85" />
<line x1="318.00" y1="450.61" x2="353.36" y2="428.58" stroke="#d3d3d3" stroke-width="0.85" />
<line x1="331.65" y1="452.02" x2="365.43" y2="429.16" stroke="#d3d3d3" stroke-width="0.85" />
<line x1="345.30" y1="453.42" x2="377.51" y2="429.75" stroke="#d3d3d3" stroke-width="0.85" />
<line x1="250.80" y1="443.70" x2="355.80" y2="454.50" stroke="#d3d3d3" stroke-width="0.85" />
<line x1="260.28" y1="439.74" x2="362.62" y2="449.15" stroke="#d3d3d3" stroke-width="0.85" />
<line x1="269.76" y1="435.78" x2="369.44" y2="443.81" stroke="#d3d3d3" stroke-width="0.85" />
<line x1="278.81" y1="432.00" x2="375.95" y2="438.70" stroke="#d3d3d3" stroke-width="0.85" />
<line x1="287.00" y1="428.58" x2="381.84" y2="434.09" stroke="#d3d3d3" stroke-width="0.85" />
<line x1="250.80" y1="443.70" x2="355.80" y2="454.50" stroke="#333" stroke-width="0.9" />
<line x1="355.80" y1="454.50" x2="386.80" y2="430.20" stroke="#333" stroke-width="0.9" />
<line x1="386.80" y1="430.20" x2="386.80" y2="356.20" stroke="#333" stroke-width="0.9" />
<line x1="386.50" y1="369.40" x2="389.50" y2="369.40" stroke="#333" stroke-width="0.8" />
<line x1="386.50" y1="382.20" x2="389.50" y2="382.20" stroke="#333" stroke-width="0.8" />
<line x1="386.50" y1="394.80" x2="389.50" y2="394.80" stroke="#333" stroke-width="0.8" />
<line x1="386.50" y1="407.50" x2="389.50" y2="407.50" stroke="#333" stroke-width="0.8" />
<line x1="386.50" y1="420.10" x2="389.50" y2="420.10" stroke="#333" stroke-width="0.8" />
<text x="397.70" y="373.30" font-size="6.8" font-weight="normal" fill="#222" text-anchor="middle" >200</text>
<text x="397.70" y="386.10" font-size="6.8" font-weight="normal" fill="#222" text-anchor="middle" >100</text>
<text x="397.70" y="398.40" font-size="6.8" font-weight="normal" fill="#222" text-anchor="middle" >0</text>
<text x="397.70" y="411.00" font-size="6.8" font-weight="normal" fill="#222" text-anchor="middle" >−100</text>
<text x="397.70" y="423.80" font-size="6.8" font-weight="normal" fill="#222" text-anchor="middle" >−200</text>
<text x="409.70" y="393.50" font-size="7.2" font-weight="normal" fill="#222" text-anchor="middle" >f2</text>
<text x="249.70" y="459.40" font-size="7.1" font-weight="normal" fill="#222" text-anchor="middle" >800</text>
<text x="264.00" y="460.60" font-size="7.1" font-weight="normal" fill="#222" text-anchor="middle" >600</text>
<text x="277.90" y="461.80" font-size="7.1" font-weight="normal" fill="#222" text-anchor="middle" >400</text>
<text x="293.20" y="463.00" font-size="7.1" font-weight="normal" fill="#222" text-anchor="middle" >200</text>
<text x="307.90" y="464.20" font-size="7.1" font-weight="normal" fill="#222" text-anchor="middle" >0</text>
<text x="323.80" y="465.40" font-size="7.1" font-weight="normal" fill="#222" text-anchor="middle" >−200</text>
<text x="340.70" y="466.60" font-size="7.1" font-weight="normal" fill="#222" text-anchor="middle" >−400</text>
<text x="293.20" y="471.20" font-size="7.6" font-weight="normal" fill="#222" text-anchor="middle" >f1</text>
<line x1="252.90" y1="443.92" x2="252.25" y2="446.43" stroke="#333" stroke-width="0.8" />
<line x1="265.58" y1="445.22" x2="265.25" y2="447.80" stroke="#333" stroke-width="0.8" />
<line x1="279.46" y1="446.65" x2="279.13" y2="449.23" stroke="#333" stroke-width="0.8" />
<line x1="294.72" y1="448.22" x2="294.39" y2="450.80" stroke="#333" stroke-width="0.8" />
<line x1="309.39" y1="449.73" x2="309.05" y2="452.30" stroke="#333" stroke-width="0.8" />
<line x1="325.24" y1="451.36" x2="324.91" y2="453.94" stroke="#333" stroke-width="0.8" />
<line x1="342.09" y1="453.09" x2="341.75" y2="455.67" stroke="#333" stroke-width="0.8" />
<text x="365.00" y="463.20" font-size="7.1" font-weight="normal" fill="#222" text-anchor="middle" >300</text>
<text x="371.00" y="459.50" font-size="7.1" font-weight="normal" fill="#222" text-anchor="middle" >200</text>
<text x="377.50" y="455.50" font-size="7.1" font-weight="normal" fill="#222" text-anchor="middle" >100</text>
<text x="386.50" y="449.00" font-size="7.1" font-weight="normal" fill="#222" text-anchor="middle" >−100</text>
<text x="392.70" y="445.30" font-size="7.1" font-weight="normal" fill="#222" text-anchor="middle" >−200</text>
<text x="391.00" y="460.50" font-size="7.6" font-weight="normal" fill="#222" text-anchor="middle" >f3</text>
<line x1="357.27" y1="453.34" x2="359.22" y2="455.07" stroke="#333" stroke-width="0.8" />
<line x1="362.79" y1="449.02" x2="364.71" y2="450.77" stroke="#333" stroke-width="0.8" />
<line x1="368.76" y1="444.34" x2="370.66" y2="446.12" stroke="#333" stroke-width="0.8" />
<line x1="373.24" y1="440.83" x2="375.14" y2="442.60" stroke="#333" stroke-width="0.8" />
<line x1="377.49" y1="437.50" x2="379.38" y2="439.28" stroke="#333" stroke-width="0.8" />
<line x1="383.12" y1="433.08" x2="385.00" y2="434.89" stroke="#333" stroke-width="0.8" />
<circle cx="333.0" cy="365.8" r="4.5" fill="#b8163e" fill-opacity="1"/>
<circle cx="334.5" cy="372.7" r="4.5" fill="#2b7d45" fill-opacity="1"/>
<circle cx="313.7" cy="378.6" r="4.5" fill="#b8163e" fill-opacity="1"/>
<circle cx="348.3" cy="382.2" r="4.5" fill="#2b7d45" fill-opacity="1"/>
<circle cx="334.0" cy="389.4" r="4.5" fill="#2b7d45" fill-opacity="0.78"/>
<circle cx="306.4" cy="393.4" r="4.5" fill="#b8163e" fill-opacity="1"/>
<circle cx="333.0" cy="397.9" r="4.5" fill="#2b7d45" fill-opacity="1"/>
<circle cx="354.2" cy="400.7" r="4.5" fill="#2b7d45" fill-opacity="0.78"/>
<circle cx="365.4" cy="399.3" r="4.5" fill="#2b7d45" fill-opacity="1"/>
<circle cx="317.2" cy="402.2" r="4.5" fill="#b8163e" fill-opacity="0.72"/>
<circle cx="323.5" cy="404.6" r="4.5" fill="#b8163e" fill-opacity="1"/>
<circle cx="342.8" cy="409.7" r="4.5" fill="#2b7d45" fill-opacity="0.78"/>
<circle cx="277.5" cy="413.6" r="4.5" fill="#b8163e" fill-opacity="0.72"/>
<circle cx="314.9" cy="416.4" r="4.5" fill="#b8163e" fill-opacity="1"/>
<circle cx="341.2" cy="417.0" r="4.5" fill="#b8163e" fill-opacity="1"/>
<circle cx="326.1" cy="421.9" r="4.5" fill="#b8163e" fill-opacity="0.72"/>
<circle cx="330.0" cy="432.7" r="4.5" fill="#b8163e" fill-opacity="1"/>
<circle cx="323.1" cy="439.6" r="4.5" fill="#b8163e" fill-opacity="1"/>
<rect x="241.7" y="347.3" width="47.80000000000001" height="28.099999999999966" rx="3.8" fill="#f2f2f2" fill-opacity="0.95" stroke="#555" stroke-width="0.9"/>
<rect x="246.40" y="349.70" width="10.50" height="9.30" fill="#4caf7c" />
<text x="262.50" y="357.00" font-size="7.4" font-weight="normal" fill="#222" text-anchor="start" >CR</text>
<rect x="246.40" y="363.20" width="10.50" height="9.20" fill="#d62a68" />
<text x="262.50" y="370.60" font-size="7.4" font-weight="normal" fill="#222" text-anchor="start" >nonCR</text>
<rect x="499.70" y="2.80" width="91.90" height="27.50" fill="#aad3e6" />
<rect x="591.60" y="2.80" width="90.60" height="27.50" fill="#3f86c1" />
<text x="545.65" y="20.10" font-size="8.7" font-weight="bold" fill="#4f5a60" text-anchor="middle" >Cluster 1</text>
<text x="636.90" y="20.10" font-size="8.7" font-weight="bold" fill="#ffffff" text-anchor="middle" >Cluster 2</text>
<line x1="499.70" y1="30.30" x2="682.20" y2="30.30" stroke="#c8c8c8" stroke-width="0.9" />
<line x1="424.90" y1="56.20" x2="682.20" y2="56.20" stroke="#a6a6a6" stroke-width="0.9" />
<line x1="424.90" y1="96.10" x2="682.20" y2="96.10" stroke="#a6a6a6" stroke-width="0.9" />
<line x1="499.70" y1="2.80" x2="499.70" y2="135.10" stroke="#a6a6a6" stroke-width="0.9" />
<line x1="591.60" y1="2.80" x2="591.60" y2="135.10" stroke="#b8b8b8" stroke-width="0.9" />
<line x1="545.30" y1="30.30" x2="545.30" y2="135.10" stroke="#a6a6a6" stroke-width="0.9" />
<line x1="635.70" y1="30.30" x2="635.70" y2="135.10" stroke="#a6a6a6" stroke-width="0.9" />
<rect x="424.9" y="2.8" width="257.30000000000007" height="132.29999999999998" fill="none" stroke="#a6a6a6" stroke-width="1"/>
<text x="522.50" y="46.00" font-size="7.2" font-weight="bold" fill="#111" text-anchor="middle" >ypT0-2</text>
<text x="568.45" y="46.00" font-size="7.2" font-weight="bold" fill="#111" text-anchor="middle" >ypT3-4</text>
<text x="613.65" y="46.00" font-size="7.2" font-weight="bold" fill="#111" text-anchor="middle" >ypT0-2</text>
<text x="658.95" y="46.00" font-size="7.2" font-weight="bold" fill="#111" text-anchor="middle" >ypT3-4</text>
<text x="462.30" y="74.95" font-size="8.4" font-weight="bold" fill="#111" text-anchor="middle" >(a)</text>
<text x="462.30" y="84.95" font-size="8.4" font-weight="bold" fill="#111" text-anchor="middle" >Discovery</text>
<text x="522.50" y="74.95" font-size="9.8" font-weight="bold" fill="#444" text-anchor="middle" >0.76</text>
<text x="522.50" y="85.15" font-size="8.3" font-weight="normal" fill="#555" text-anchor="middle" >13/17</text>
<text x="568.45" y="74.95" font-size="9.8" font-weight="bold" fill="#444" text-anchor="middle" >0.35</text>
<text x="568.45" y="85.15" font-size="8.3" font-weight="normal" fill="#555" text-anchor="middle" >8/23</text>
<text x="613.65" y="74.95" font-size="9.8" font-weight="bold" fill="#444" text-anchor="middle" >0.24</text>
<text x="613.65" y="85.15" font-size="8.3" font-weight="normal" fill="#555" text-anchor="middle" >4/17</text>
<text x="658.95" y="74.95" font-size="9.8" font-weight="bold" fill="#444" text-anchor="middle" >0.65</text>
<text x="658.95" y="85.15" font-size="8.3" font-weight="normal" fill="#555" text-anchor="middle" >15/23</text>
<text x="462.30" y="114.40" font-size="8.4" font-weight="bold" fill="#111" text-anchor="middle" >(b)</text>
<text x="462.30" y="124.40" font-size="8.4" font-weight="bold" fill="#111" text-anchor="middle" >Validation</text>
<text x="522.50" y="114.40" font-size="9.8" font-weight="bold" fill="#444" text-anchor="middle" >0.66</text>
<text x="522.50" y="124.60" font-size="8.3" font-weight="normal" fill="#555" text-anchor="middle" >10/15</text>
<text x="568.45" y="114.40" font-size="9.8" font-weight="bold" fill="#444" text-anchor="middle" >0.27</text>
<text x="568.45" y="124.60" font-size="8.3" font-weight="normal" fill="#555" text-anchor="middle" >9/33</text>
<text x="613.65" y="114.40" font-size="9.8" font-weight="bold" fill="#444" text-anchor="middle" >0.33</text>
<text x="613.65" y="124.60" font-size="8.3" font-weight="normal" fill="#555" text-anchor="middle" >5/15</text>
<text x="658.95" y="114.40" font-size="9.8" font-weight="bold" fill="#444" text-anchor="middle" >0.73</text>
<text x="658.95" y="124.60" font-size="8.3" font-weight="normal" fill="#555" text-anchor="middle" >24/33</text>
<rect x="499.70" y="145.70" width="91.90" height="27.60" fill="#aad3e6" />
<rect x="591.60" y="145.70" width="90.60" height="27.60" fill="#3f86c1" />
<text x="545.65" y="163.00" font-size="8.7" font-weight="bold" fill="#4f5a60" text-anchor="middle" >Cluster 1</text>
<text x="636.90" y="163.00" font-size="8.7" font-weight="bold" fill="#ffffff" text-anchor="middle" >Cluster 2</text>
<line x1="499.70" y1="173.30" x2="682.20" y2="173.30" stroke="#c8c8c8" stroke-width="0.9" />
<line x1="424.90" y1="199.30" x2="682.20" y2="199.30" stroke="#a6a6a6" stroke-width="0.9" />
<line x1="499.70" y1="145.70" x2="499.70" y2="238.80" stroke="#a6a6a6" stroke-width="0.9" />
<line x1="591.60" y1="145.70" x2="591.60" y2="238.80" stroke="#b8b8b8" stroke-width="0.9" />
<line x1="545.30" y1="173.30" x2="545.30" y2="238.80" stroke="#a6a6a6" stroke-width="0.9" />
<line x1="635.70" y1="173.30" x2="635.70" y2="238.80" stroke="#a6a6a6" stroke-width="0.9" />
<rect x="424.9" y="145.7" width="257.30000000000007" height="93.10000000000002" fill="none" stroke="#a6a6a6" stroke-width="1"/>
<text x="522.50" y="189.00" font-size="7.2" font-weight="bold" fill="#111" text-anchor="middle" >CR</text>
<text x="568.45" y="189.00" font-size="7.2" font-weight="bold" fill="#111" text-anchor="middle" >non-CR</text>
<text x="613.65" y="189.00" font-size="7.2" font-weight="bold" fill="#111" text-anchor="middle" >CR</text>
<text x="658.95" y="189.00" font-size="7.2" font-weight="bold" fill="#111" text-anchor="middle" >non-CR</text>
<text x="462.30" y="217.85" font-size="8.4" font-weight="bold" fill="#111" text-anchor="middle" >(c)</text>
<text x="462.30" y="227.85" font-size="8.4" font-weight="bold" fill="#111" text-anchor="middle" >External</text>
<text x="522.50" y="217.85" font-size="9.8" font-weight="bold" fill="#444" text-anchor="middle" >0.71</text>
<text x="522.50" y="228.05" font-size="8.3" font-weight="normal" fill="#555" text-anchor="middle" >5/7</text>
<text x="568.45" y="217.85" font-size="9.8" font-weight="bold" fill="#444" text-anchor="middle" >0.25</text>
<text x="568.45" y="228.05" font-size="8.3" font-weight="normal" fill="#555" text-anchor="middle" >3/12</text>
<text x="613.65" y="217.85" font-size="9.8" font-weight="bold" fill="#444" text-anchor="middle" >0.29</text>
<text x="613.65" y="228.05" font-size="8.3" font-weight="normal" fill="#555" text-anchor="middle" >2/7</text>
<text x="658.95" y="217.85" font-size="9.8" font-weight="bold" fill="#444" text-anchor="middle" >0.75</text>
<text x="658.95" y="228.05" font-size="8.3" font-weight="normal" fill="#555" text-anchor="middle" >9/12</text>
<rect x="444.1" y="245.3" width="217.9" height="83.3" fill="#fff" stroke="#a6a6a6" stroke-width="1"/>
<text x="565.90" y="260.60" font-size="11" font-weight="bold" fill="#111" text-anchor="middle" >Unsupervised Clustering</text>
<rect x="451.8" y="268.1" width="16" height="13.5" fill="#aad3e6" stroke="#555" stroke-width="0.9"/>
<rect x="561.6" y="268.1" width="16" height="13.5" fill="#3f86c1" stroke="#555" stroke-width="0.9"/>
<text x="478.40" y="279.20" font-size="8.6" font-weight="normal" fill="#222" text-anchor="start" >Cluster 1</text>
<text x="588.20" y="279.20" font-size="8.6" font-weight="normal" fill="#222" text-anchor="start" >Cluster 2</text>
<text x="566.10" y="300.80" font-size="11" font-weight="bold" fill="#111" text-anchor="middle" >Consensus between patients</text>
<rect x="451.8" y="305.4" width="16" height="14.4" fill="#fff" stroke="#555" stroke-width="0.9"/>
<rect x="561.6" y="305.4" width="16" height="14.4" fill="#0000ff" stroke="#555" stroke-width="0.9"/>
<text x="478.40" y="311.60" font-size="8.6" font-weight="normal" fill="#222" text-anchor="start" >Never grouped</text>
<text x="478.40" y="322.00" font-size="8.6" font-weight="normal" fill="#222" text-anchor="start" >together</text>
<text x="588.20" y="311.60" font-size="8.6" font-weight="normal" fill="#222" text-anchor="start" >Always grouped</text>
<text x="588.20" y="322.00" font-size="8.6" font-weight="normal" fill="#222" text-anchor="start" >together</text>
<rect x="463.6" y="341.4" width="74" height="118.5" rx="5" fill="#d9efd2" stroke="#7cc46f" stroke-width="1.1"/>
<rect x="552.0" y="341.4" width="74" height="118.5" rx="5" fill="#f2cfd0" stroke="#d9534f" stroke-width="1.1"/>
<text transform="translate(475.4,372.0) rotate(-90)" font-size="7.3" font-weight="bold" fill="#3a3a3a" letter-spacing="0.28" text-anchor="middle">Deformation</text>
<text transform="translate(475.4,427.4) rotate(-90)" font-size="7.3" font-weight="bold" fill="#3a3a3a" letter-spacing="0.28" text-anchor="middle">CoLIAGe</text>
<text transform="translate(561.8,372.0) rotate(-90)" font-size="7.3" font-weight="bold" fill="#3a3a3a" letter-spacing="0.28" text-anchor="middle">Deformation</text>
<text transform="translate(561.8,427.4) rotate(-90)" font-size="7.3" font-weight="bold" fill="#3a3a3a" letter-spacing="0.28" text-anchor="middle">CoLIAGe</text>
<defs>
<filter id="nz" x="0" y="0" width="100%" height="100%" color-interpolation-filters="sRGB">
 <feTurbulence type="fractalNoise" baseFrequency="0.09" numOctaves="3" seed="7" result="t"/>
 <feColorMatrix in="t" type="matrix" values="0.6 0 0 0 0.33  0.6 0 0 0 0.33  0.6 0 0 0 0.33  0 0 0 0 1"/>
</filter>
<filter id="nz2" x="0" y="0" width="100%" height="100%" color-interpolation-filters="sRGB">
 <feTurbulence type="fractalNoise" baseFrequency="0.09" numOctaves="3" seed="21" result="t"/>
 <feColorMatrix in="t" type="matrix" values="0.6 0 0 0 0.33  0.6 0 0 0 0.33  0.6 0 0 0 0.33  0 0 0 0 1"/>
</filter>
<filter id="jet" x="0" y="0" width="100%" height="100%" color-interpolation-filters="sRGB">
 <feTurbulence type="fractalNoise" baseFrequency="0.45" numOctaves="2" seed="4" result="t"/>
 <feColorMatrix in="t" type="matrix" values="1.8 0 0 0 -0.4  1.8 0 0 0 -0.4  1.8 0 0 0 -0.4  0 0 0 0 1" result="g"/>
 <feComponentTransfer in="g">
  <feFuncR type="table" tableValues="0.1 0.1 0.1 0.1 0.1 0.1 0.15 0.3 0.75 0.95 1"/>
  <feFuncG type="table" tableValues="0.1 0.1 0.1 0.12 0.15 0.25 0.55 0.9 0.95 0.75 0.4"/>
  <feFuncB type="table" tableValues="1 1 1 1 1 1 1 1 0.4 0.15 0.1"/>
 </feComponentTransfer>
</filter>
<filter id="bl3" x="-50%" y="-50%" width="200%" height="200%"><feGaussianBlur stdDeviation="3"/></filter>
<filter id="bl1" x="-50%" y="-50%" width="200%" height="200%"><feGaussianBlur stdDeviation="1.2"/></filter>
<filter id="bl2" x="-50%" y="-50%" width="200%" height="200%"><feGaussianBlur stdDeviation="0.6"/></filter>
<linearGradient id="def1" x1="0" y1="0" x2="1" y2="0"><stop offset="0" stop-color="#3aa4ff"/><stop offset="0.22" stop-color="#2a66ff"/><stop offset="0.42" stop-color="#1a1aff"/><stop offset="1" stop-color="#2222ff"/></linearGradient>
<radialGradient id="hot" cx="0.5" cy="0.5" r="0.5"><stop offset="0" stop-color="#900000"/><stop offset="0.25" stop-color="#ff1a00"/><stop offset="0.5" stop-color="#ffc800"/><stop offset="0.75" stop-color="#9ef07a"/><stop offset="1" stop-color="#5ad0ff" stop-opacity="0"/></radialGradient>
<clipPath id="kg1"><path d="M486 371.3 C486.5 365 492 358.5 499.6 357.2 C505 356.3 516 356.8 520.9 364.3 C524 368 525 376 522 380.8 C520 383.5 514 384.5 510.8 382.6 C512.5 379 511 372 505.5 370.8 C501 370 499 373 498.5 375.5 C496 378.5 491 379 487.8 376 C486.5 374.5 486 373 486 371.3 Z"/></clipPath>
<clipPath id="kg2"><path transform="translate(0,55.6)" d="M486 371.3 C486.5 365 492 358.5 499.6 357.2 C505 356.3 516 356.8 520.9 364.3 C524 368 524 376 521 380.8 C519 383.5 514 384.5 510.8 382.6 C512.5 379 511 372 505.5 370.8 C501 370 499 373 498.5 375.5 C496 378.5 491 379 487.8 376 C486.5 374.5 486 373 486 371.3 Z"/></clipPath>
<clipPath id="kr1"><path d="M580.7 354.2 C582 349 590 346 598.4 346 C605 346.3 610.5 350 612.4 358.4 C613.2 363 613 372 610.2 378.4 C608 384 606 387 604.3 387.9 C600 391 596 392.5 592.5 393.2 L583.1 394.4 C580 390 578.6 384 578.6 376 L579.6 362 Z"/></clipPath>
<clipPath id="kr2"><path transform="translate(0,56)" d="M580.7 354.2 C582 349 590 346 598.4 346 C605 346.3 610.5 350 612.4 358.4 C613.2 363 613 372 610.2 378.4 C608 384 606 387 604.3 387.9 C600 391 596 392.5 592.5 393.2 L583.1 394.4 C580 390 578.6 384 578.6 376 L579.6 362 Z"/></clipPath>
</defs>
<rect x="479.2" y="346.2" width="52.6" height="52.0" fill="#999" filter="url(#nz)"/>
<svg x="479.2" y="346.2" width="52.6" height="52.0" overflow="hidden">
<ellipse cx="2" cy="2" rx="12" ry="9" fill="#3a3a3a" fill-opacity="0.7" filter="url(#bl3)"/>
<ellipse cx="26" cy="28" rx="22" ry="17" fill="none" stroke="#c4c4c4" stroke-opacity="0.6" stroke-width="3" filter="url(#bl1)"/>
<path d="M30 52 L52 40 L52 52 Z" fill="#d0d0d0" fill-opacity="0.5" filter="url(#bl1)"/>
<path d="M0 44 C10 48 25 50 40 47" stroke="#555" stroke-opacity="0.5" stroke-width="1.5" fill="none" filter="url(#bl2)"/>
</svg>
<ellipse cx="504" cy="380" rx="10" ry="9" fill="#3a3a3a" fill-opacity="0.55" filter="url(#bl1)"/>
<g clip-path="url(#kg1)"><rect x="485" y="355" width="41" height="30" fill="url(#def1)"/><ellipse cx="489.5" cy="371" rx="3.5" ry="4.5" fill="#55d6ff" filter="url(#bl1)"/><path d="M500 358 C508 360 515 364 519 384" stroke="#3a50ff" stroke-width="2.5" fill="none" filter="url(#bl2)"/><ellipse cx="521" cy="376" rx="2.5" ry="4" fill="#3a7aff" filter="url(#bl2)"/></g>
<ellipse cx="504.6" cy="379.5" rx="6.8" ry="7.4" fill="#1e1e1e" filter="url(#bl2)"/>
<rect x="479.2" y="402.0" width="52.6" height="52.2" fill="#999" filter="url(#nz2)"/>
<svg x="479.2" y="402.0" width="52.6" height="52.2" overflow="hidden">
<ellipse cx="2" cy="2" rx="12" ry="9" fill="#3a3a3a" fill-opacity="0.7" filter="url(#bl3)"/>
<ellipse cx="26" cy="28" rx="22" ry="17" fill="none" stroke="#c4c4c4" stroke-opacity="0.6" stroke-width="3" filter="url(#bl1)"/>
<path d="M30 52 L52 40 L52 52 Z" fill="#d0d0d0" fill-opacity="0.5" filter="url(#bl1)"/>
<path d="M0 44 C10 48 25 50 40 47" stroke="#555" stroke-opacity="0.5" stroke-width="1.5" fill="none" filter="url(#bl2)"/>
</svg>
<ellipse cx="504" cy="435.6" rx="10" ry="9" fill="#3a3a3a" fill-opacity="0.55" filter="url(#bl1)"/>
<g clip-path="url(#kg2)"><rect x="485" y="410" width="41" height="31" fill="#33f" filter="url(#jet)"/></g>
<ellipse cx="504.6" cy="435.1" rx="6.8" ry="7.4" fill="#1e1e1e" filter="url(#bl2)"/>
<rect x="567.0" y="346.0" width="52.4" height="52.5" fill="#999" filter="url(#nz)"/>
<svg x="567.0" y="346.0" width="52.4" height="52.5" overflow="hidden">
<path d="M44 0 C50 15 50 38 40 53" stroke="#d8d8d8" stroke-opacity="0.8" stroke-width="2.2" fill="none" filter="url(#bl2)"/>
<path d="M48 0 C54 15 54 38 46 53" stroke="#4a4a4a" stroke-opacity="0.6" stroke-width="1.6" fill="none" filter="url(#bl2)"/>
<ellipse cx="50" cy="3" rx="6" ry="5" fill="#3a3a3a" fill-opacity="0.7" filter="url(#bl1)"/>
<path d="M4 0 C8 20 4 35 10 53" stroke="#c8c8c8" stroke-opacity="0.45" stroke-width="3" fill="none" filter="url(#bl1)"/>
</svg>
<g clip-path="url(#kr1)"><rect x="579" y="345" width="36" height="51" fill="#62c8ff"/><ellipse cx="596" cy="352" rx="8" ry="3" fill="#8fe8ff" filter="url(#bl1)"/><path d="M579 358 C590 358 604 361 614 364" stroke="#1420ff" stroke-width="4" fill="none" filter="url(#bl2)"/><ellipse cx="606" cy="380" rx="6" ry="4" fill="#1a1aff" filter="url(#bl1)"/><ellipse cx="610" cy="370" rx="2" ry="4" fill="#1a2aff" filter="url(#bl2)"/><ellipse cx="597" cy="351" rx="5" ry="1.8" fill="#9af0d0" filter="url(#bl2)"/><path d="M586 394 C596 392 606 386 612 377" stroke="#1a1aff" stroke-width="5" fill="none" filter="url(#bl2)"/><ellipse cx="590" cy="366" rx="5" ry="2" fill="#8fe8c0" filter="url(#bl1)"/><ellipse cx="601.4" cy="371.3" rx="8" ry="9" fill="url(#hot)"/><ellipse cx="584" cy="381" rx="3" ry="4" fill="#ffe040" filter="url(#bl2)"/></g>
<path d="M583.5 394 C592 393 601 390 607 384 C609 382 610 379 610 376" stroke="#222" stroke-width="2" fill="none"/>
<ellipse cx="609" cy="376.5" rx="1.8" ry="2.6" fill="#222"/>
<ellipse cx="576.7" cy="382" rx="6" ry="12.2" fill="#2c2c2c" stroke="#58d4f4" stroke-width="1.1"/>
<rect x="567.2" y="402.0" width="53.2" height="53.2" fill="#999" filter="url(#nz2)"/>
<svg x="567.2" y="402.0" width="53.2" height="53.2" overflow="hidden">
<path d="M44 0 C50 15 50 38 40 53" stroke="#d8d8d8" stroke-opacity="0.8" stroke-width="2.2" fill="none" filter="url(#bl2)"/>
<path d="M48 0 C54 15 54 38 46 53" stroke="#4a4a4a" stroke-opacity="0.6" stroke-width="1.6" fill="none" filter="url(#bl2)"/>
<ellipse cx="50" cy="3" rx="6" ry="5" fill="#3a3a3a" fill-opacity="0.7" filter="url(#bl1)"/>
<path d="M4 0 C8 20 4 35 10 53" stroke="#c8c8c8" stroke-opacity="0.45" stroke-width="3" fill="none" filter="url(#bl1)"/>
</svg>
<g clip-path="url(#kr2)"><rect x="579" y="401" width="36" height="52" fill="#33f" filter="url(#jet)"/></g>
<path d="M583.5 450 C592 449 601 446 607 440 C609 438 611 436 611 433" stroke="#222" stroke-width="1.8" fill="none"/>
<ellipse cx="576.7" cy="438" rx="6" ry="12.2" fill="#2c2c2c" stroke="#7ad8c0" stroke-width="1.3"/>
<path d="M334 372.8 C372 372.5 398 374 404 386 C409 397 425 399.5 457 400.4" fill="none" stroke="#444" stroke-width="1"/>
<path d="M455.5 396.5 L463.2 400.6 L455.5 404.6 Z" fill="#555"/>
<path d="M331 433 C360 434.5 376 441 384 452 C392 465 410 472 450 473 C500 474.5 545 472 582 464" fill="none" stroke="#444" stroke-width="1"/>
<path d="M579.5 460.5 L588.2 461 L582.5 467.5 Z" fill="#555"/>
</svg>
</body></html>
